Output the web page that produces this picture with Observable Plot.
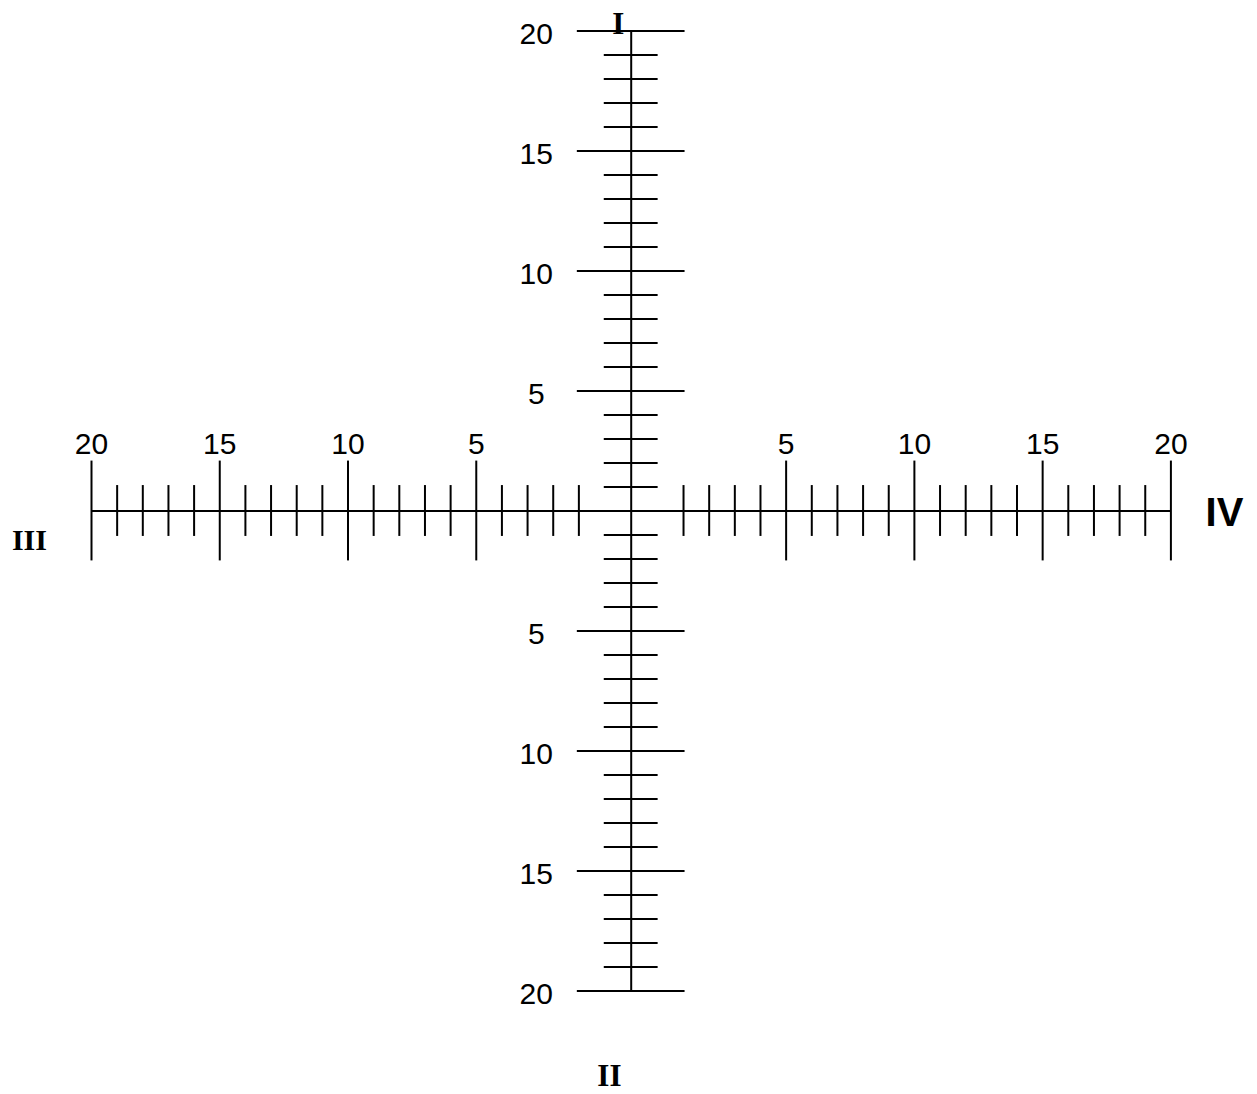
<!DOCTYPE html>
<html>
<head>
<meta charset="utf-8">
<script src="https://cdn.jsdelivr.net/npm/d3@7"></script>
<script src="https://cdn.jsdelivr.net/npm/@observablehq/plot@0.6"></script>
<style>
  html, body { margin: 0; padding: 0; background: #fff; }
  #chart svg { display: block; }
</style>
</head>
<body>
<div id="chart"></div>
<script>
// ---- data ----
const majorTicks = [5, 10, 15, 20];
const minorTicks = [1, 2, 3, 4, 6, 7, 8, 9, 11, 12, 13, 14, 16, 17, 18, 19];
const tickLabels = ["5", "10", "15", "20"];
const romanLabels = ["I", "II", "III", "IV"];
const armLength = 20;

// ---- layout constants (styles / geometry, in scale units) ----
const gap = 1.04;          // half-gap of the horizontal arms around the centre
const vMajorHalf = 2.1, vMinorHalf = 1.05;   // half-width of ticks on vertical arm (x units)
const hMajorHalf = 2.08, hMinorHalf = 1.06;  // half-height of ticks on horizontal arm (y units)

// tables built from the arrays
const vMajor = majorTicks.flatMap(v => [{y: v}, {y: -v}]);
const vMinor = minorTicks.flatMap(v => [{y: v}, {y: -v}]);
const hMajor = majorTicks.flatMap(v => [{x: -(gap + v)}, {x: gap + v}]);
const hMinor = minorTicks.flatMap(v => [{x: -(gap + v)}, {x: gap + v}]);
const vLabels = majorTicks.flatMap((v, i) => [{y: v, t: tickLabels[i]}, {y: -v, t: tickLabels[i]}]);
const hLabels = majorTicks.flatMap((v, i) => [{x: -(gap + v), t: tickLabels[i]}, {x: gap + v, t: tickLabels[i]}]);
const romanPos = [
  {t: romanLabels[0], x: -0.5, y: 20.3, font: "Liberation Serif", size: 31},
  {t: romanLabels[1], x: -0.85, y: -23.55, font: "Liberation Serif", size: 31},
  {t: romanLabels[2], x: -23.46, y: -1.23, font: "Liberation Serif", size: 30},
  {t: romanLabels[3], x: 23.13, y: -0.1, font: "Liberation Sans", size: 40}
];

const sw = 2;
const numFont = "Liberation Sans, Arial, sans-serif";

const chart = Plot.plot({
  width: 1257,
  height: 1094,
  marginLeft: 91,
  marginRight: 86.6,
  marginTop: 30.5,
  marginBottom: 103.5,
  x: {domain: [-(gap + armLength), gap + armLength], axis: null},
  y: {domain: [-armLength, armLength], axis: null},
  style: {background: "white"},
  marks: [
    // main axes
    Plot.ruleX([0], {y1: -armLength, y2: armLength, stroke: "black", strokeWidth: sw}),
    Plot.ruleY([0], {x1: -(gap + armLength), x2: gap + armLength, stroke: "black", strokeWidth: sw}),
    // vertical arm ticks
    Plot.ruleY(vMajor, {y: "y", x1: -vMajorHalf, x2: vMajorHalf, stroke: "black", strokeWidth: sw}),
    Plot.ruleY(vMinor, {y: "y", x1: -vMinorHalf, x2: vMinorHalf, stroke: "black", strokeWidth: sw}),
    // horizontal arm ticks
    Plot.ruleX(hMajor, {x: "x", y1: -hMajorHalf, y2: hMajorHalf, stroke: "black", strokeWidth: sw}),
    Plot.ruleX(hMinor, {x: "x", y1: -hMinorHalf, y2: hMinorHalf, stroke: "black", strokeWidth: sw}),
    // numeric labels
    Plot.text(vLabels, {x: () => -3.7, y: "y", text: "t", dy: 3, fontSize: 30, fontFamily: numFont, fill: "black"}),
    Plot.text(hLabels, {x: "x", y: () => 2.77, text: "t", fontSize: 30, fontFamily: numFont, fill: "black"}),
    // roman numerals
    ...romanPos.map(r => Plot.text([r], {x: "x", y: "y", text: "t", fontSize: r.size, fontWeight: "bold", fontFamily: r.font, fill: "black"}))
  ]
});
document.getElementById("chart").appendChild(chart);
</script>
</body>
</html>
